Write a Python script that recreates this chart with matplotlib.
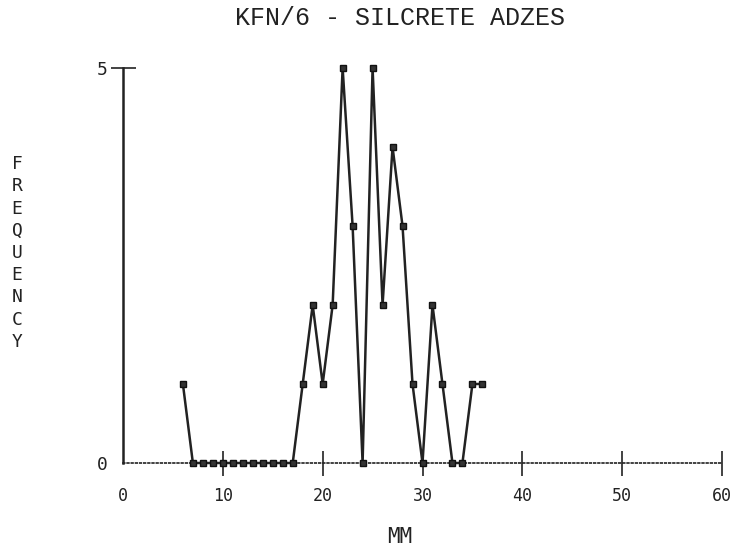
import matplotlib
matplotlib.use("Agg")
import matplotlib.pyplot as plt

# data (size in mm vs frequency)
mm = [6, 7, 8, 9, 10, 11, 12, 13, 14, 15, 16, 17, 18, 19, 20, 21, 22, 23, 24,
      25, 26, 27, 28, 29, 30, 31, 32, 33, 34, 35, 36]
freq = [1, 0, 0, 0, 0, 0, 0, 0, 0, 0, 0, 0, 1, 2, 1, 2, 5, 3, 0,
        5, 2, 4, 3, 1, 0, 2, 1, 0, 0, 1, 1]
xticks = [0, 10, 20, 30, 40, 50, 60]
yticks = [0, 5]
title = "KFN/6 - SILCRETE ADZES"
xlabel = "MM"
ylabel = "FREQUENCY"

fig = plt.figure(figsize=(7.31, 5.57), dpi=100)
ax = fig.add_axes([123 / 731, (557 - 463) / 557, 599 / 731, 395 / 557])

ax.plot(mm, freq, color="#222222", lw=1.8, marker="s", ms=5,
        mfc="#333333", mec="#111111", clip_on=False, zorder=3)

ax.set_xlim(0, 60)
ax.set_ylim(0, 5)
for s in ["top", "right"]:
    ax.spines[s].set_visible(False)
ax.spines["left"].set_linewidth(1.8)
ax.spines["left"].set_color("#222222")
ax.spines["bottom"].set_linestyle((0, (1, 1.5)))
ax.spines["bottom"].set_linewidth(1.2)
ax.spines["bottom"].set_color("#222222")

mono = "DejaVu Sans Mono"
ax.set_xticks(xticks)
ax.set_xticklabels([str(v) for v in xticks], family=mono, fontsize=12)
ax.set_yticks(yticks)
ax.set_yticklabels([str(v) for v in yticks], family=mono, fontsize=13)
ax.tick_params(axis="x", direction="inout", length=18, width=1.2, pad=8, colors="#222222")
ax.tick_params(axis="y", direction="inout", length=18, width=1.2, pad=2, colors="#222222")
ax.yaxis.get_major_ticks()[0].tick1line.set_visible(False)
ax.xaxis.get_major_ticks()[0].tick1line.set_visible(False)

fig.text(400 / 731, 1 - 18 / 557, title, family="Liberation Mono", fontsize=18,
         ha="center", va="center", color="#222222")
fig.text(400 / 731, 1 - 537 / 557, xlabel, family=mono, fontsize=15,
         ha="center", va="center", color="#222222")
fig.text(17 / 731, 1 - 253 / 557, "\n".join(ylabel), family=mono, fontsize=13,
         ha="center", va="center", linespacing=1.3, color="#222222")

fig.savefig("out.png", dpi=100)
